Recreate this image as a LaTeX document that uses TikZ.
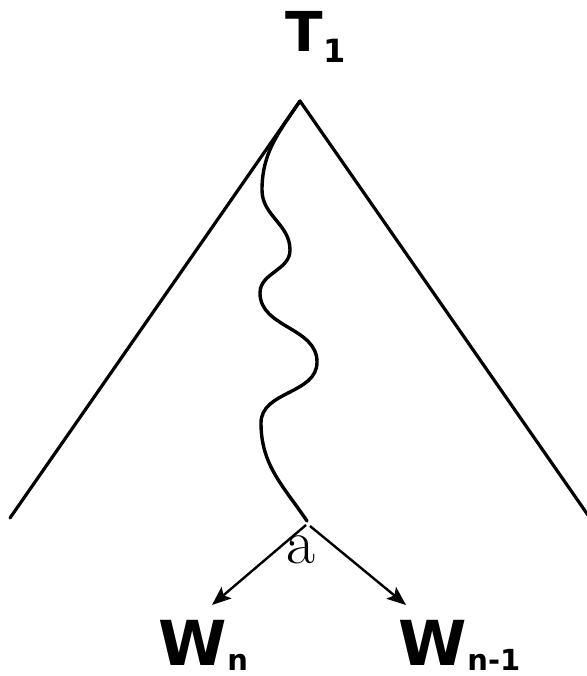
\documentclass[tikz,border=0pt]{standalone}
\usepackage{fontspec}
\usetikzlibrary{arrows.meta}
\newfontfamily\vfont{DejaVu Sans}
\tikzset{
  edge/.style={line width=3.2pt, line cap=round, line join=round},
  path/.style={line width=3.4pt, line cap=round},
  arr/.style={line width=2.4pt, -{Stealth[length=19pt,width=15pt,inset=4pt]}},
  lbl/.style={inner sep=0pt, outer sep=0pt, anchor=base west, font=\vfont\bfseries},
  lab/.style={inner sep=0pt, outer sep=0pt, anchor=base west}
}
\begin{document}
\begin{tikzpicture}[x=1pt,y=1pt]
\useasboundingbox (0,0) rectangle (586,-676);
\fill[white] (0,0) rectangle (586,-676);
% coordinates
\coordinate (apex) at (300,-101);
\coordinate (left) at (10,-518);
\coordinate (right) at (590,-518);
\coordinate (wend) at (307,-521);
\coordinate (sL) at (306,-525);
\coordinate (sR) at (310,-526);
\coordinate (tipL) at (212,-605);
\coordinate (tipR) at (406,-605);
% triangle
\draw[edge] (left) -- (apex) -- (right);
% wavy path
\draw[path] (apex) to[out=236,in=90] (262,-190)
  to[out=270,in=90] (290,-250)
  to[out=270,in=90] (260,-293)
  to[out=270,in=90] (317,-362)
  to[out=270,in=90] (261,-423)
  to[out=270,in=124] (wend);
% arrows
\draw[arr] (sL) -- (tipL);
\draw[arr] (sR) -- (tipR);
% labels
\node[lbl] (T1) at (285,-52) {\fontsize{55}{55}\selectfont T\hspace{1pt}\raisebox{-11pt}{\fontsize{32}{32}\selectfont 1}};
\node[lab] (a) at (286,-563) {\fontsize{63}{63}\selectfont a};
\node[lbl] (Wn) at (158,-665) {\fontsize{62}{62}\selectfont W\hspace{1pt}\raisebox{-5pt}{\fontsize{29}{29}\selectfont n}};
\node[lbl] (Wn1) at (398,-665) {\fontsize{62}{62}\selectfont W\hspace{1pt}\raisebox{-5pt}{\fontsize{29}{29}\selectfont n-1}};
\end{tikzpicture}
\end{document}
